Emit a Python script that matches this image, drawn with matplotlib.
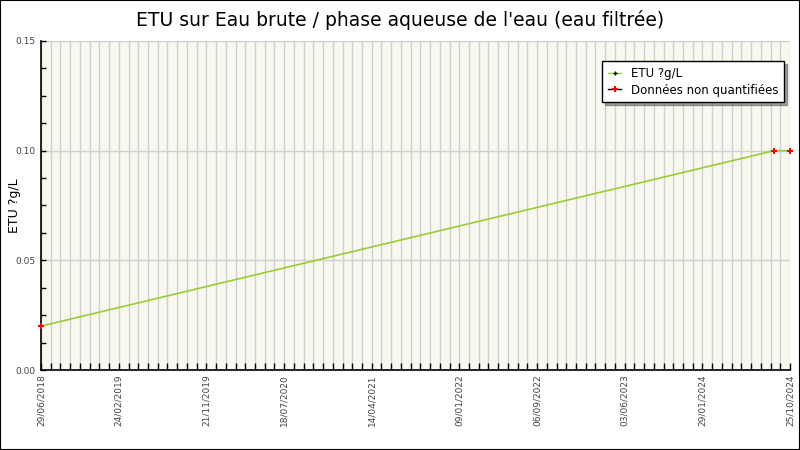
import datetime as dt
import matplotlib
matplotlib.use('Agg')
import matplotlib.pyplot as plt
from matplotlib.patches import Rectangle
from matplotlib.lines import Line2D

### Data
dates = ['29/06/2018', '06/09/2024', '25/10/2024']
values = [0.02, 0.10, 0.10]
non_quantified = [True, True, True]

tick_labels = ['29/06/2018', '24/02/2019', '21/11/2019', '18/07/2020',
               '14/04/2021', '09/01/2022', '06/09/2022', '03/06/2023',
               '29/01/2024', '25/10/2024']
minor_step = 30    # days between small ticks / vertical grid

fmt = '%d/%m/%Y'
x = [dt.datetime.strptime(d, fmt) for d in dates]
x_nq = [xi for xi, f in zip(x, non_quantified) if f]
y_nq = [yi for yi, f in zip(values, non_quantified) if f]
major = [dt.datetime.strptime(d, fmt) for d in tick_labels]
start, end = major[0], major[-1]

### Figure
fig = plt.figure(figsize=(8, 4.5), dpi=100)
fig.patches.append(Rectangle((0, 0), 1, 1, transform=fig.transFigure,
                             fill=False, edgecolor='black', linewidth=1.5))
ax = fig.add_axes([41/800, 80/450, 749/800, 329/450])
ax.set_facecolor('#f8f8f0')

ax.plot(x, values, '-', color='#9acd32', linewidth=1.2, zorder=3)
ax.plot(x_nq, y_nq, 'P', color='red', markersize=5, markeredgewidth=0,
        zorder=4, clip_on=False)

# ticks
minor = []
d = start
while d <= end:
    minor.append(d)
    d += dt.timedelta(days=minor_step)

ax.set_xlim(start, end)
ax.set_xticks(major)
ax.set_xticklabels(tick_labels, rotation=90)
ax.set_xticks(minor, minor=True)
ax.grid(True, which='both', axis='x', color='#d0d0d0', linewidth=1)

ax.set_ylim(0, 0.15)
ax.set_yticks([0.0, 0.05, 0.10, 0.15])
ax.set_yticklabels(['0.00', '0.05', '0.10', '0.15'])
ax.set_yticks([i*0.0125 for i in range(13)], minor=True)
ax.grid(True, which='major', axis='y', color='#d0d0d0', linewidth=1)
ax.set_axisbelow(True)

ax.tick_params(axis='x', which='both', direction='in', length=5, width=1,
               labelsize=6.5, labelcolor='#444444', pad=3)
ax.tick_params(axis='y', which='both', direction='in', length=3.5, width=1,
               labelsize=6.5, labelcolor='#444444', pad=4)
for s in ['top', 'right']:
    ax.spines[s].set_visible(False)
for s in ['left', 'bottom']:
    ax.spines[s].set_linewidth(1.2)

ax.set_ylabel('ETU ?g/L', fontsize=9)
ax.yaxis.set_label_coords(-0.027, 0.5)
fig.suptitle("ETU sur Eau brute / phase aqueuse de l'eau (eau filtrée)",
             fontsize=13.5, y=0.978)

handles = [Line2D([], [], color='#9acd32', linewidth=1, marker='+',
                  markersize=3, markeredgecolor='black'),
           Line2D([], [], color='black', linewidth=1, marker='P',
                  markersize=5, markerfacecolor='red', markeredgewidth=0)]
leg = ax.legend(handles, ['ETU ?g/L', 'Données non quantifiées'],
                loc='upper right', bbox_to_anchor=(0.992, 0.939),
                fontsize=8.5, frameon=True, fancybox=False, shadow=True,
                borderpad=0.5, handlelength=1.1, labelspacing=0.3,
                borderaxespad=0)
leg.get_frame().set_edgecolor('black')
leg.get_frame().set_linewidth(1)
leg.get_frame().set_facecolor('white')

plt.savefig('out.png', dpi=100)
